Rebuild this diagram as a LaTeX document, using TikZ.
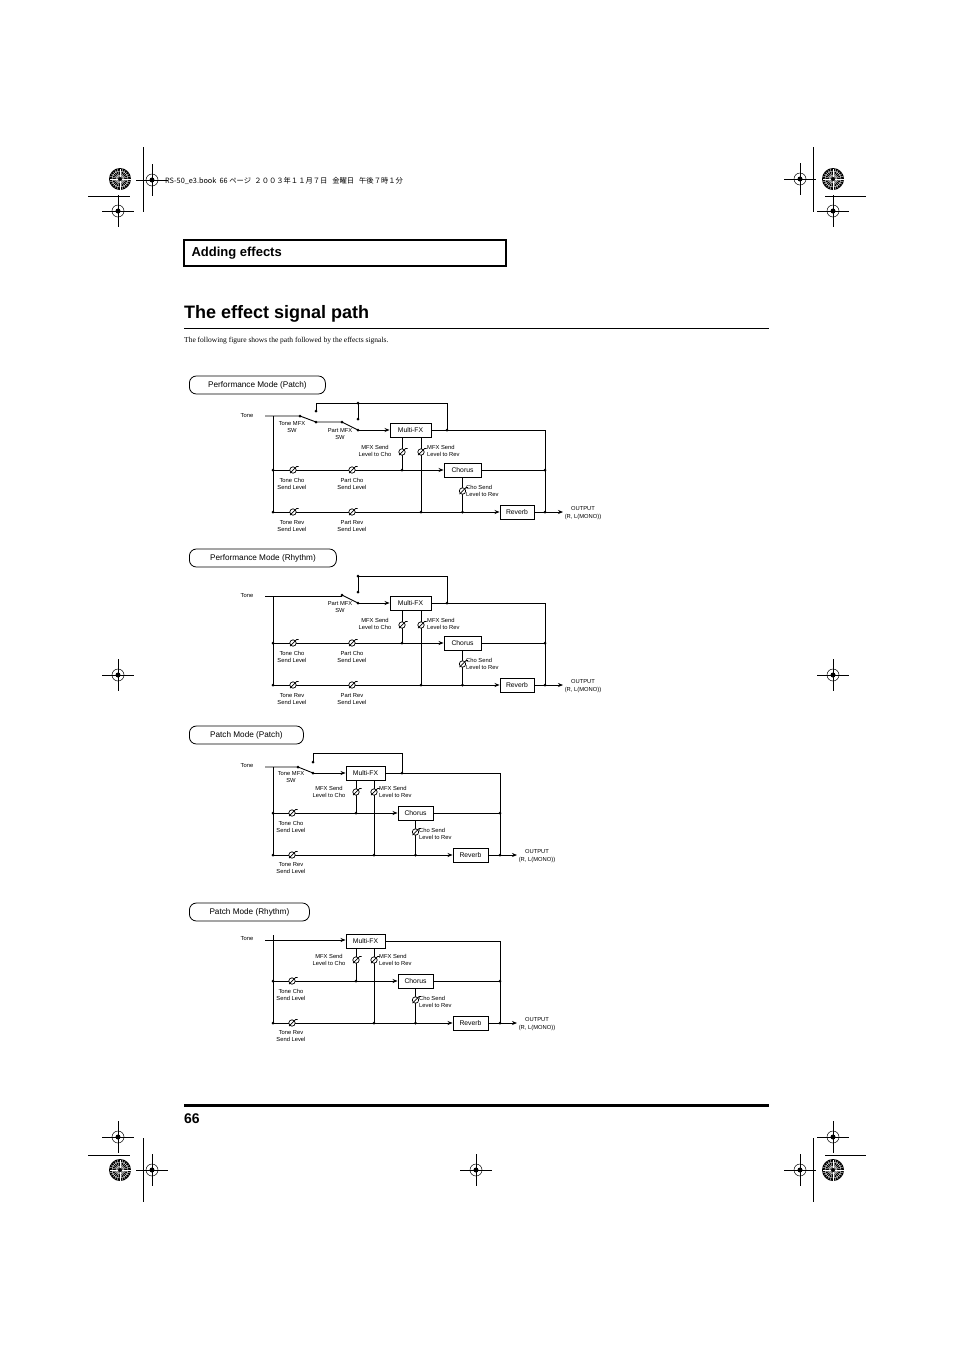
\documentclass[tikz,border=0pt]{standalone}
\usepackage{fontspec}
\setmainfont{Liberation Serif}
\newfontfamily\dsans{Liberation Sans}
\newfontfamily\jfont{Noto Sans CJK JP}
\usetikzlibrary{arrows.meta}
\tikzset{
 sig/.style={line width=0.9pt},
 arr/.style={sig,-{Stealth[length=5pt,width=4pt]}},
 fxbox/.style={draw,line width=0.9pt,fill=white,font=\dsans\fontsize{6.8}{7}\selectfont,minimum height=14pt,inner sep=1pt},
 lbl/.style={font=\dsans\fontsize{5.8}{7.4}\selectfont,align=center,inner sep=0pt},
 lbll/.style={lbl,align=left,anchor=west},
 hdr/.style={draw,line width=0.8pt,rounded corners=7pt,minimum height=18pt,font=\dsans\fontsize{8.2}{9}\selectfont,anchor=west,inner xsep=4pt},
 dot/.style={circle,fill,inner sep=0pt,minimum size=3pt},
 knob/.pic={\draw[line width=0.7pt,fill=white] (0,0) circle (3.2);
  \draw[line width=0.7pt] (-3,3) -- (3.5,-3.5) -- (5.5,-3.5);},
 reg/.pic={\draw[line width=0.5pt] (0,0) circle (6);
  \draw[line width=0.5pt] (-16,0) -- (16,0) (0,-16) -- (0,16);
  \fill (0,0) circle (2.5);},
 star/.pic={\fill (0,0) circle (11);\draw[white,line width=0.4pt] (0,0) circle (4) (0,0) circle (8);
  \foreach \a in {0,15,...,345}{\draw[white,line width=0.3pt] (\a:2) -- (\a:10.5);}},
}
\newcommand\perfcore[1]{%
 \node[fxbox,minimum width=41pt] (mfx#1) at (410.5,430) {Multi-FX};
 \node[fxbox,minimum width=37pt] (cho#1) at (462.5,470) {Chorus};
 \node[fxbox,minimum width=34pt] (rev#1) at (517,512) {Reverb};
 \coordinate (out#1) at (563,512);
 \draw[arr] (273,470) -- (cho#1.west);
 \draw[arr] (273,512) -- (rev#1.west);
 \draw[sig] (mfx#1.east) -- (545,430) -- (545,512);
 \draw[sig] (cho#1.east) -- (545,470);
 \draw[arr] (rev#1.east) -- (out#1);
 \draw[sig] (mfx#1.south -| 402,0) -- (402,470);
 \draw[sig] (mfx#1.south -| 421,0) -- (421,512);
 \draw[sig] (cho#1.south) -- (462.5,512);
 \draw[sig] (447,430) -- (447,403) -- (358,403);
 \foreach \p in {(273,470),(273,512),(402,470),(421,512),(462.5,512),(545,470),(545,512),(447,430),(358,403)} \node[dot] at \p {};
 \foreach \p in {(293,470),(352,470),(293,512),(352,512),(402,452),(421,452),(462.5,491)} \pic at \p {knob};
 \node[lbl] at (292,484) {Tone Cho\\Send Level};
 \node[lbl] at (352,484) {Part Cho\\Send Level};
 \node[lbl] at (292,526) {Tone Rev\\Send Level};
 \node[lbl] at (352,526) {Part Rev\\Send Level};
 \node[lbl] at (375,451) {MFX Send\\Level to Cho};
 \node[lbll] at (427,451) {MFX Send\\Level to Rev};
 \node[lbll] at (466,491) {Cho Send\\Level to Rev};
 \node[lbl] at (583,513) {OUTPUT\\(R, L(MONO))};
 \node[lbl] at (340,434) {Part MFX\\SW};
 \draw[sig] (358,403) -- (358,419);
 \draw[arr] (358,430) -- (mfx#1.west);
 \node[dot] at (342,422) {}; \node[dot] at (358,419) {}; \node[dot] at (358,430) {};
 \draw[sig] (342,422) -- (358,430);
}
\newcommand\patchcore[1]{%
 \node[fxbox,minimum width=39pt] (mfx#1) at (365.5,773) {Multi-FX};
 \node[fxbox,minimum width=35pt] (cho#1) at (415.5,813) {Chorus};
 \node[fxbox,minimum width=35pt] (rev#1) at (470.5,855) {Reverb};
 \coordinate (out#1) at (517,855);
 \draw[sig] (273,767) -- (273,855);
 \draw[arr] (273,813) -- (cho#1.west);
 \draw[arr] (273,855) -- (rev#1.west);
 \draw[sig] (mfx#1.east) -- (500,773) -- (500,855);
 \draw[sig] (cho#1.east) -- (500,813);
 \draw[arr] (rev#1.east) -- (out#1);
 \draw[sig] (mfx#1.south -| 356,0) -- (356,813);
 \draw[sig] (mfx#1.south -| 374,0) -- (374,855);
 \draw[sig] (cho#1.south) -- (415.5,855);
 \foreach \p in {(273,813),(273,855),(356,813),(374,855),(415.5,855),(500,813),(500,855)} \node[dot] at \p {};
 \foreach \p in {(292,813),(292,855),(356,792),(374,792),(415.5,832)} \pic at \p {knob};
 \node[lbl] at (291,827) {Tone Cho\\Send Level};
 \node[lbl] at (291,868) {Tone Rev\\Send Level};
 \node[lbl] at (329,792) {MFX Send\\Level to Cho};
 \node[lbll] at (379,792) {MFX Send\\Level to Rev};
 \node[lbll] at (419,834) {Cho Send\\Level to Rev};
 \node[lbl] at (537,856) {OUTPUT\\(R, L(MONO))};
}
\begin{document}
\begin{tikzpicture}[x=1pt,y=-1pt]
\useasboundingbox (0,0) rectangle (954,1350);
% print marks
\foreach \p in {(152,180),(118,211),(800,179),(833,211),(118,675),(833,675),(118,1137),(833,1137),(152,1170),(476,1170),(800,1170)} \pic at \p {reg};
\foreach \p in {(120,179),(833,179),(120,1170),(833,1170)} \pic at \p {star};
\draw[line width=0.5pt] (143,147) -- (143,212) (88,196) -- (130,196) (813,147) -- (813,212) (825,196) -- (866,196)
 (143,1138) -- (143,1202) (88,1155) -- (130,1155) (813,1138) -- (813,1202) (825,1155) -- (866,1155);
\node[anchor=west,font=\jfont\fontsize{7.3}{8}\selectfont,inner sep=0pt] (jp) at (165,181) {RS-50\_e3.book\ \ 66 ページ\ \ ２００３年１１月７日\ \ \ 金曜日\ \ \ 午後７時１分};
% page head
\draw[line width=1.6pt] (184,240) rectangle (506,266);
\node[anchor=west,font=\dsans\bfseries\fontsize{13}{14}\selectfont] (sec) at (188,253) {Adding effects};
\node[anchor=west,font=\dsans\bfseries\fontsize{18}{19}\selectfont,inner sep=0pt] (ttl) at (184,314) {The effect signal path};
\draw[line width=1.6pt] (184,328.5) -- (769,328.5);
\node[anchor=west,font=\fontsize{7.5}{8}\selectfont,inner sep=0pt] (intro) at (184,341) {The following figure shows the path followed by the effects signals.};
\draw[line width=3pt] (184,1105) -- (769,1105);
\node[anchor=west,font=\dsans\bfseries\fontsize{14}{15}\selectfont,inner sep=0pt] (pg) at (184,1119) {66};
% diagram 1
\node[hdr,minimum width=136pt] (h1) at (189,385) {Performance Mode (Patch)};
\node[lbl] (t1) at (247,416) {Tone};
\perfcore{a}
\draw[sig] (265,416) -- (300,416) -- (316,422) -- (342,422);
\draw[sig] (273,416) -- (273,512);
\draw[sig] (316,411) -- (316,403) -- (358,403);
\node[dot] at (300,416) {}; \node[dot] at (316,422) {}; \node[dot] at (316,411) {};
\node[lbl] at (292,427) {Tone MFX\\SW};
% diagram 2
\node[hdr,minimum width=147pt] (h2) at (189,558) {Performance Mode (Rhythm)};
\node[lbl] (t2) at (247,596) {Tone};
\begin{scope}[yshift=-173pt]
\perfcore{b}
\draw[sig] (265,423) -- (342,423);
\draw[sig] (273,423) -- (273,512);
\end{scope}
% diagram 3
\node[hdr,minimum width=114pt] (h3) at (189,735) {Patch Mode (Patch)};
\node[lbl] (t3) at (247,766) {Tone};
\patchcore{c}
\draw[sig] (265,767) -- (298,767) -- (313,773);
\draw[arr] (313,773) -- (mfxc.west);
\draw[sig] (313,762) -- (313,753) -- (402,753) -- (402,773);
\foreach \p in {(298,767),(313,773),(313,762),(402,773)} \node[dot] at \p {};
\node[lbl] at (291,777) {Tone MFX\\SW};
% diagram 4
\node[hdr,minimum width=120pt] (h4) at (189,912) {Patch Mode (Rhythm)};
\node[lbl] (t4) at (247,939) {Tone};
\begin{scope}[yshift=-168pt]
\patchcore{d}
\draw[arr] (265,772) -- (mfxd.west |- 0,772);
\end{scope}
\end{tikzpicture}
\end{document}
